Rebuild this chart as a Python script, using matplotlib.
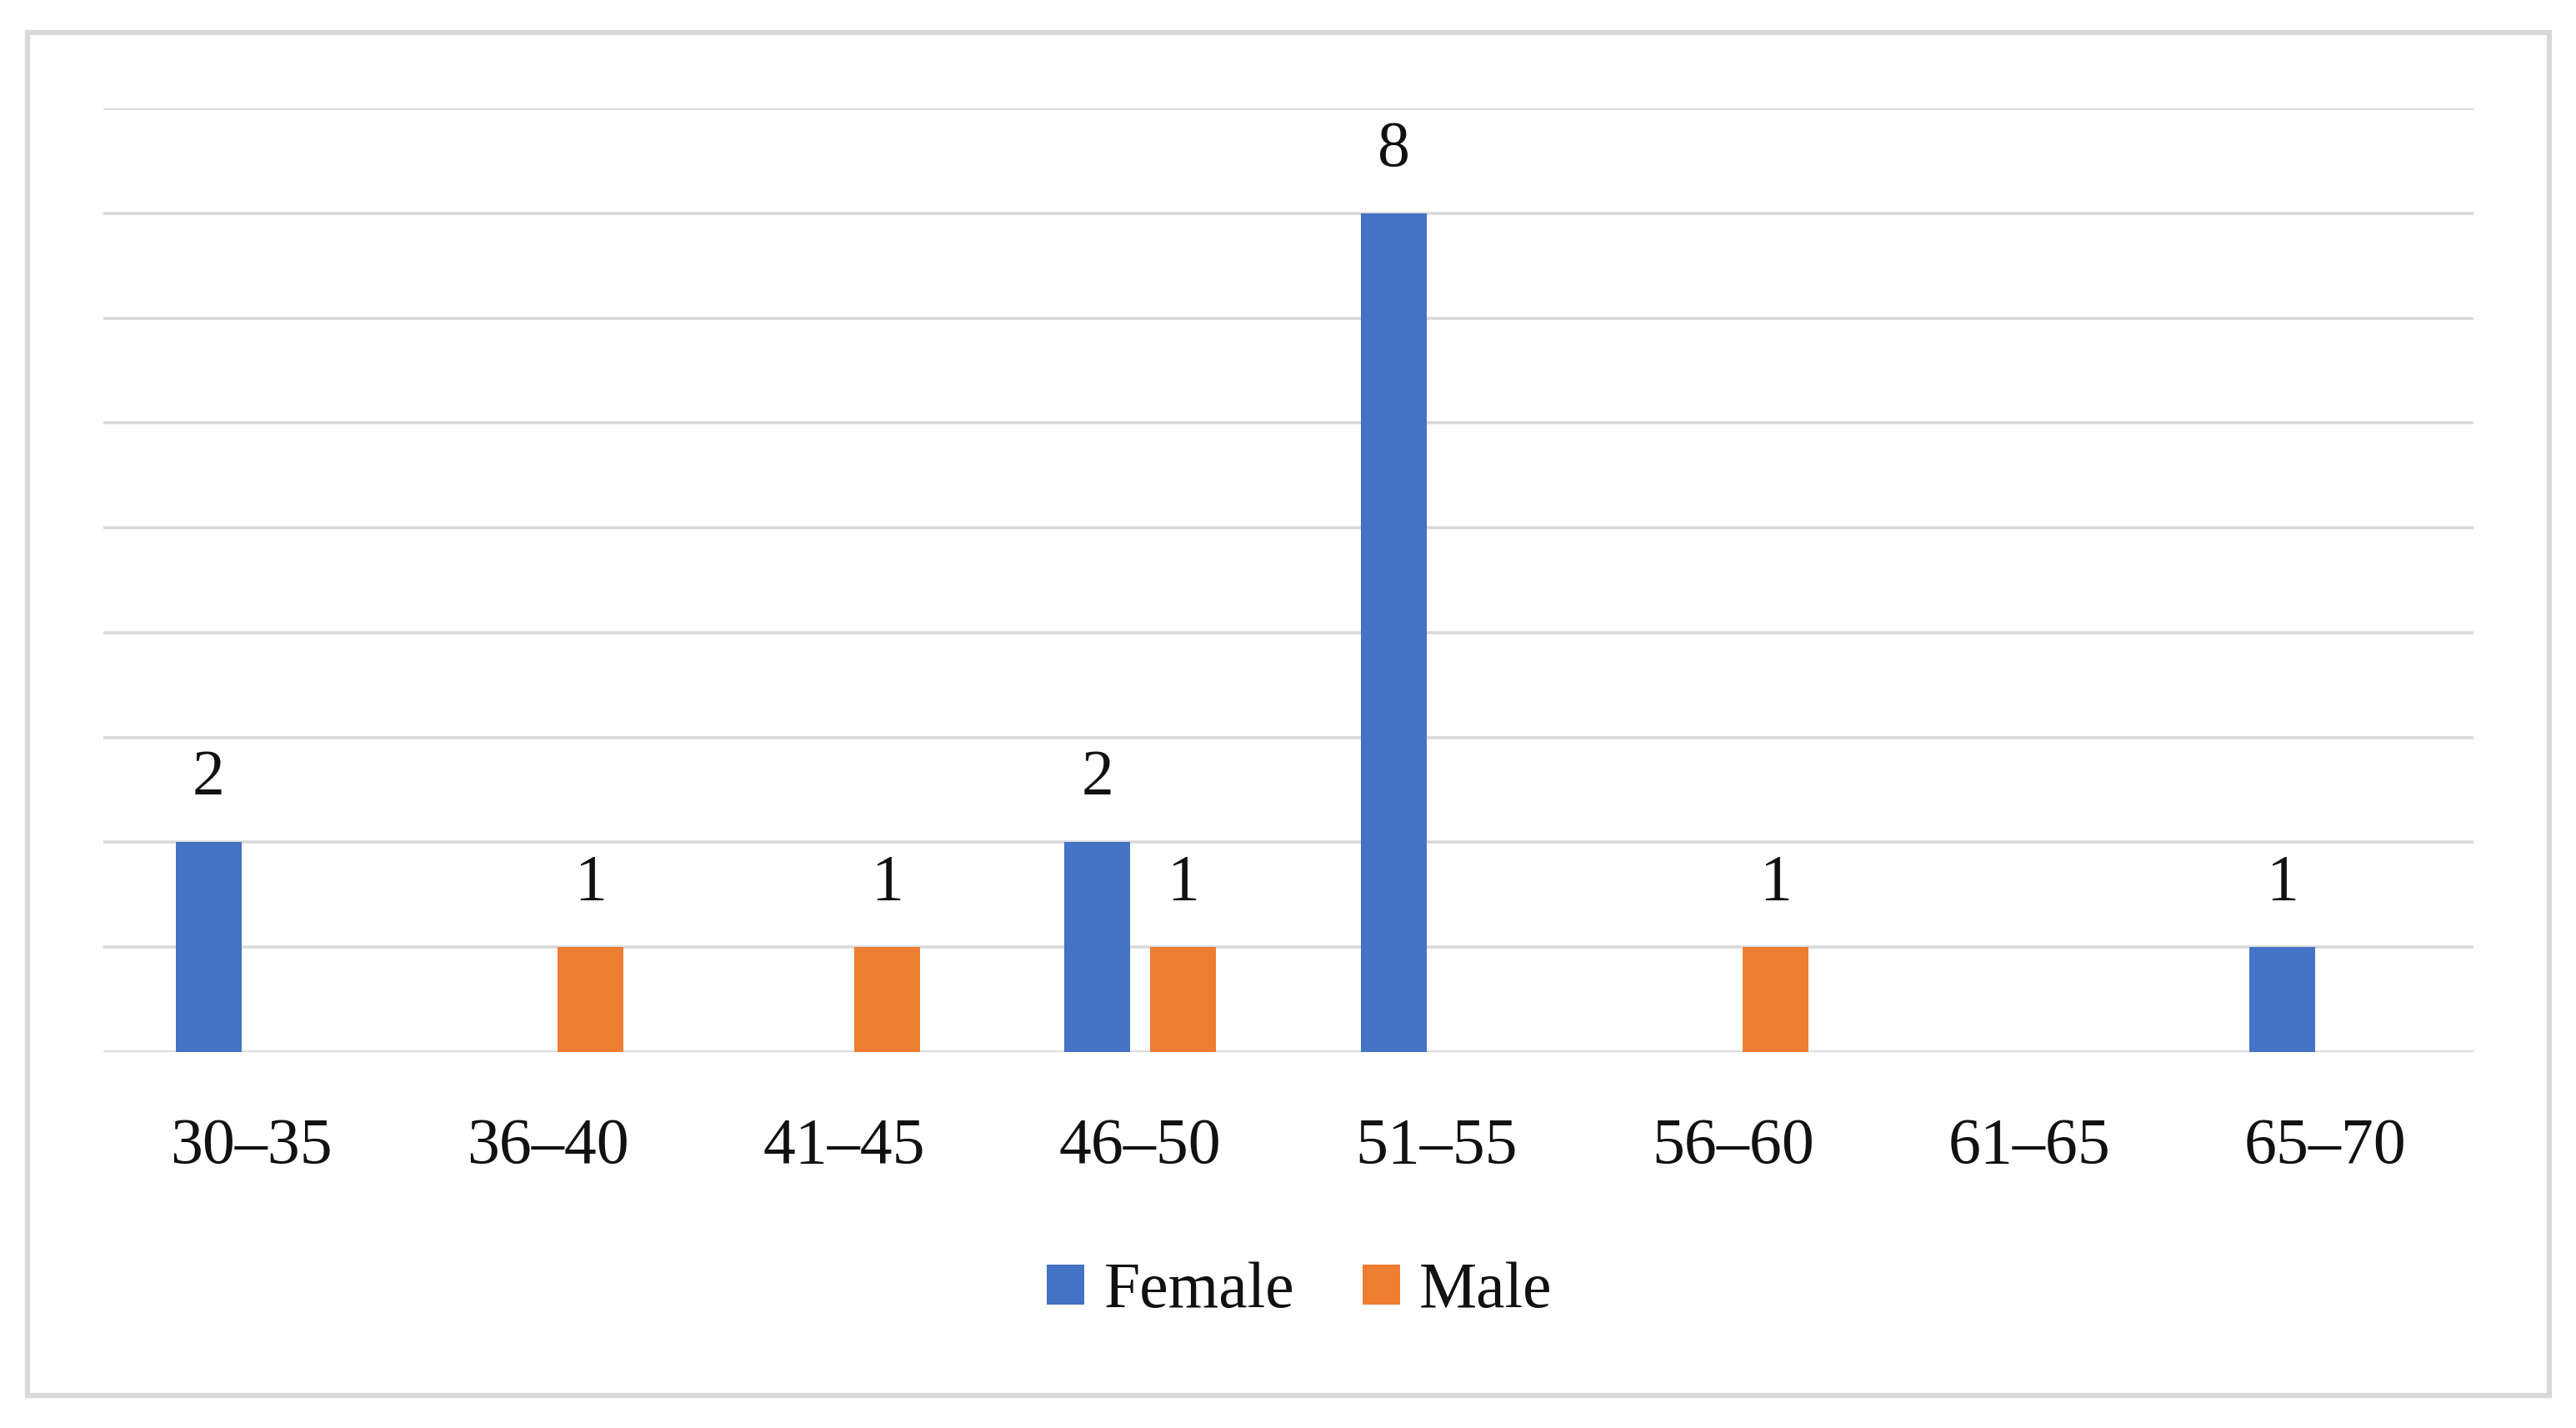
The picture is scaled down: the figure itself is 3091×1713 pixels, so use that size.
import matplotlib
matplotlib.use("Agg")
import matplotlib.pyplot as plt
from matplotlib.patches import Rectangle
import numpy as np

# datos
grupos = ["30–35", "36–40", "41–45", "46–50", "51–55", "56–60", "61–65", "65–70"]
mujeres = [2, 0, 0, 2, 8, 0, 0, 1]
hombres = [0, 1, 1, 1, 0, 1, 0, 0]

azul = "#4472C4"
naranja = "#ED7D31"
gris = "#D9D9D9"
texto = "#111111"

plt.rcParams["font.family"] = ["Liberation Serif", "DejaVu Serif"]
fs = 56

fig = plt.figure(figsize=(30.91, 17.13), dpi=100)
ax = fig.add_axes([0.0401, 0.2633, 0.9201, 0.6608])

x = np.arange(len(grupos))
w = 0.222
off = 0.145
b1 = ax.bar(x - off, mujeres, w, color=azul, label="Female", zorder=3)
b2 = ax.bar(x + off, hombres, w, color=naranja, label="Male", zorder=3)

# etiquetas de valores
for barras, vals in ((b1, mujeres), (b2, hombres)):
    for r, v in zip(barras, vals):
        if v > 0:
            ax.annotate(str(v), (r.get_x() + r.get_width() / 2, v),
                        xytext=(0, 41), textcoords="offset points",
                        ha="center", va="baseline", fontsize=fs, color=texto)

ax.set_xlim(-0.5, len(grupos) - 0.5)
ax.set_ylim(0, 9)
ax.set_yticks(range(0, 10))
ax.yaxis.grid(True, color=gris, linewidth=2.6, zorder=0)
ax.set_axisbelow(True)
ax.tick_params(axis="y", left=False, labelleft=False)
ax.set_xticks(x)
ax.set_xticklabels(grupos, fontsize=fs, color=texto)
ax.tick_params(axis="x", bottom=False, pad=53)
for s in ax.spines.values():
    s.set_visible(False)

fig.legend(handles=[b1, b2], labels=["Female", "Male"], loc="center",
           bbox_to_anchor=(0.5045, 0.0955), ncol=2, frameon=False,
           fontsize=fs, handlelength=0.58, handleheight=0.58,
           handletextpad=0.3, columnspacing=1.05, labelcolor=texto)

# borde exterior
fig.patches.append(Rectangle((0.0108, 0.023), 0.979, 0.954, transform=fig.transFigure,
                             fill=False, edgecolor=gris, linewidth=4.5))

fig.savefig("out.png", dpi=100, facecolor="white")
